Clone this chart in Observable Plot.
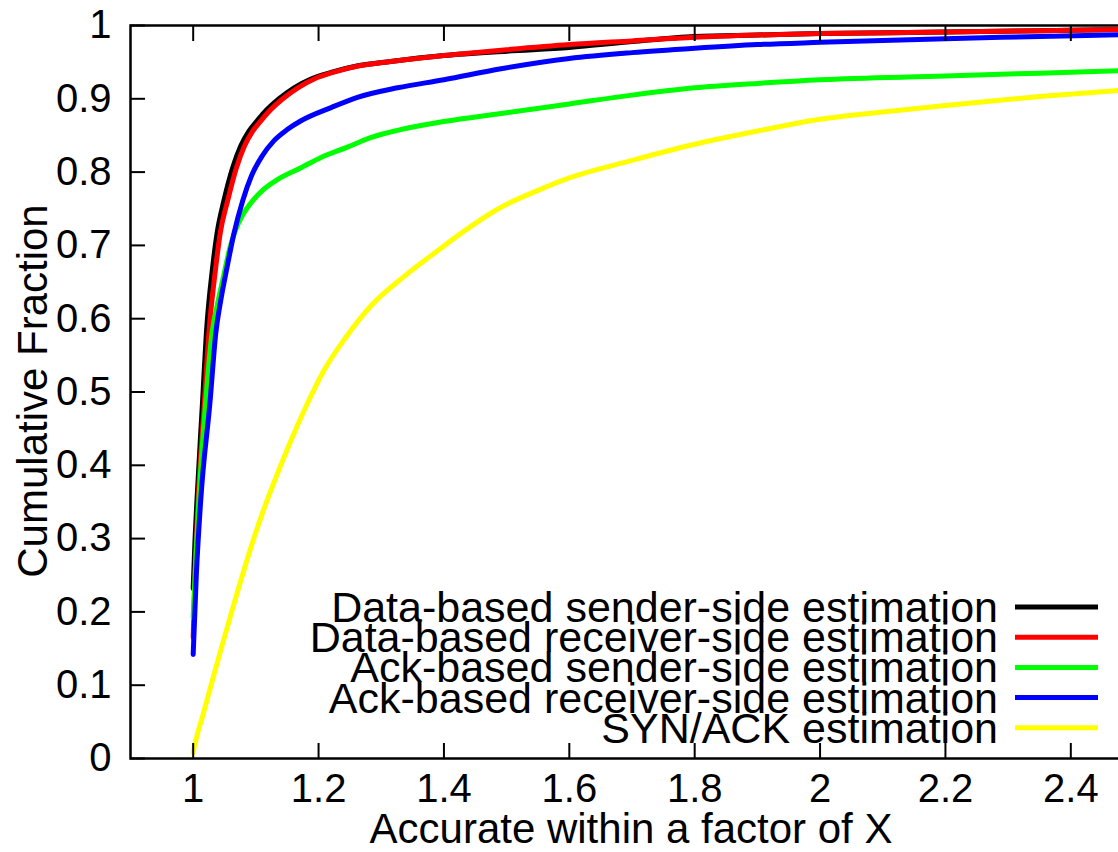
<!DOCTYPE html>
<html>
<head>
<meta charset="utf-8">
<script src="https://cdn.jsdelivr.net/npm/d3@7"></script>
<script src="https://cdn.jsdelivr.net/npm/@observablehq/plot@0.6"></script>
<style>
  html, body { margin: 0; padding: 0; background: #fff; overflow: hidden; }
  #chart { width: 1118px; height: 852px; overflow: hidden; position: relative; }
  #chart svg { max-width: none !important; display: block; }
</style>
</head>
<body>
<div id="chart"></div>
<script>
// Series names and colours (legend order = drawing order)
const seriesNames = [
  "Data-based sender-side estimation",
  "Data-based receiver-side estimation",
  "Ack-based sender-side estimation",
  "Ack-based receiver-side estimation",
  "SYN/ACK estimation"
];
const seriesColors = ["#000000", "#ff0000", "#00ff00", "#0000ff", "#ffff00"];

// CDF samples: accuracy factor (x) and cumulative fraction (y) per series
const dataSenderX = [1.000, 1.003, 1.006, 1.015, 1.021, 1.031, 1.038, 1.049, 1.063, 1.076, 1.089, 1.102, 1.113, 1.137, 1.161, 1.188, 1.220, 1.263, 1.315, 1.40, 1.50, 1.60, 1.70, 1.80, 1.90, 2.00, 2.20, 2.35, 2.50];
const dataSenderY = [0.232, 0.300, 0.352, 0.488, 0.580, 0.670, 0.716, 0.761, 0.806, 0.836, 0.856, 0.870, 0.881, 0.900, 0.915, 0.927, 0.936, 0.945, 0.951, 0.959, 0.965, 0.970, 0.978, 0.985, 0.987, 0.989, 0.991, 0.993, 0.995];

const dataReceiverX = [1.000, 1.003, 1.008, 1.018, 1.025, 1.036, 1.043, 1.055, 1.069, 1.082, 1.095, 1.108, 1.119, 1.143, 1.167, 1.193, 1.223, 1.265, 1.315, 1.40, 1.50, 1.60, 1.70, 1.80, 1.90, 2.00, 2.20, 2.35, 2.50];
const dataReceiverY = [0.165, 0.250, 0.352, 0.488, 0.580, 0.670, 0.716, 0.761, 0.806, 0.836, 0.856, 0.870, 0.881, 0.900, 0.915, 0.927, 0.936, 0.945, 0.951, 0.959, 0.967, 0.974, 0.979, 0.984, 0.987, 0.989, 0.991, 0.993, 0.995];

const ackSenderX = [1.000, 1.004, 1.009, 1.020, 1.030, 1.040, 1.049, 1.058, 1.068, 1.080, 1.095, 1.112, 1.135, 1.172, 1.204, 1.246, 1.283, 1.326, 1.40, 1.491, 1.60, 1.70, 1.80, 1.90, 2.00, 2.20, 2.35, 2.50];
const ackSenderY = [0.192, 0.270, 0.352, 0.488, 0.580, 0.625, 0.660, 0.695, 0.722, 0.743, 0.761, 0.776, 0.790, 0.806, 0.820, 0.834, 0.847, 0.857, 0.869, 0.880, 0.893, 0.905, 0.915, 0.921, 0.926, 0.931, 0.935, 0.939];

const ackReceiverX = [1.000, 1.005, 1.012, 1.027, 1.036, 1.044, 1.054, 1.065, 1.079, 1.093, 1.110, 1.129, 1.150, 1.172, 1.220, 1.262, 1.326, 1.40, 1.491, 1.60, 1.70, 1.80, 1.90, 2.00, 2.20, 2.35, 2.50];
const ackReceiverY = [0.142, 0.250, 0.352, 0.488, 0.580, 0.625, 0.670, 0.716, 0.761, 0.795, 0.822, 0.843, 0.858, 0.870, 0.888, 0.902, 0.915, 0.926, 0.941, 0.955, 0.963, 0.969, 0.974, 0.977, 0.982, 0.985, 0.988];

const synAckX = [1.000, 1.0016, 1.016, 1.031, 1.046, 1.061, 1.076, 1.092, 1.111, 1.135, 1.158, 1.182, 1.209, 1.243, 1.283, 1.337, 1.384, 1.443, 1.491, 1.55, 1.60, 1.70, 1.80, 1.90, 2.00, 2.10, 2.20, 2.35, 2.50];
const synAckY = [0.008, 0.015, 0.061, 0.108, 0.154, 0.199, 0.243, 0.288, 0.336, 0.390, 0.438, 0.484, 0.530, 0.574, 0.617, 0.658, 0.689, 0.726, 0.752, 0.775, 0.792, 0.816, 0.838, 0.856, 0.872, 0.882, 0.891, 0.903, 0.913];

// Axis ticks
const xTicks = [1, 1.2, 1.4, 1.6, 1.8, 2, 2.2, 2.4];
const yTicks = [0, 0.1, 0.2, 0.3, 0.4, 0.5, 0.6, 0.7, 0.8, 0.9, 1];

const xTitle = "Accurate within a factor of X";
const yTitle = "Cumulative Fraction";

// Long-format table for Plot
const seriesXY = [
  [dataSenderX, dataSenderY],
  [dataReceiverX, dataReceiverY],
  [ackSenderX, ackSenderY],
  [ackReceiverX, ackReceiverY],
  [synAckX, synAckY]
];
const rows = [];
seriesXY.forEach(([xs, ys], i) => {
  xs.forEach((x, j) => rows.push({series: seriesNames[i], x, y: ys[j]}));
});

const font = "'Liberation Sans', Arial, Helvetica, sans-serif";
const fmt = d => String(d);

const chart = Plot.plot({
  width: 1140,
  height: 852,
  marginLeft: 130,
  marginRight: 7,
  marginTop: 25,
  marginBottom: 94,
  style: {fontFamily: font, background: "#fff", color: "#000", maxWidth: "none"},
  x: {domain: [0.9, 2.5]},
  y: {domain: [0, 1]},
  color: {domain: seriesNames, range: seriesColors},
  marks: [
    Plot.line(rows, {x: "x", y: "y", z: "series", stroke: "series", strokeWidth: 5, curve: "monotone-x", clip: true}),
    Plot.axisX(xTicks, {anchor: "bottom", tickSize: -15, tickPadding: 30, fontSize: 40, tickFormat: fmt, label: null, strokeWidth: 2}),
    Plot.axisX(xTicks, {anchor: "top", tickSize: -15, tickFormat: () => "", label: null, strokeWidth: 2}),
    Plot.axisY(yTicks, {anchor: "left", tickSize: -15, tickPadding: 34, fontSize: 40, tickFormat: fmt, label: null, strokeWidth: 2}),
    Plot.axisY(yTicks, {anchor: "right", tickSize: -15, tickFormat: () => "", label: null, strokeWidth: 2}),
    Plot.frame({stroke: "#000", strokeWidth: 2.5})
  ]
});
chart.style.maxWidth = "none";

const svg = d3.select(chart);

// Axis titles, centred on the plot frame
svg.append("text")
  .attr("x", 631).attr("y", 843)
  .attr("text-anchor", "middle")
  .attr("font-size", 42).attr("font-family", font)
  .attr("fill", "#000")
  .text(xTitle);

svg.append("text")
  .attr("transform", "translate(47,391) rotate(-90)")
  .attr("text-anchor", "middle")
  .attr("font-size", 42).attr("font-family", font)
  .attr("fill", "#000")
  .text(yTitle);

// Legend inside the plot area, bottom right (tightly stacked rows)
const legend = svg.append("g").attr("font-family", font).attr("font-size", 43);
seriesNames.forEach((name, i) => {
  const cy = 607 + i * 30.2;
  legend.append("text")
    .attr("x", 998).attr("y", cy + 15)
    .attr("text-anchor", "end").attr("fill", "#000")
    .text(name);
  legend.append("line")
    .attr("x1", 1015).attr("x2", 1098).attr("y1", cy).attr("y2", cy)
    .attr("stroke", seriesColors[i]).attr("stroke-width", 5);
});

document.getElementById("chart").appendChild(chart);
</script>
</body>
</html>
